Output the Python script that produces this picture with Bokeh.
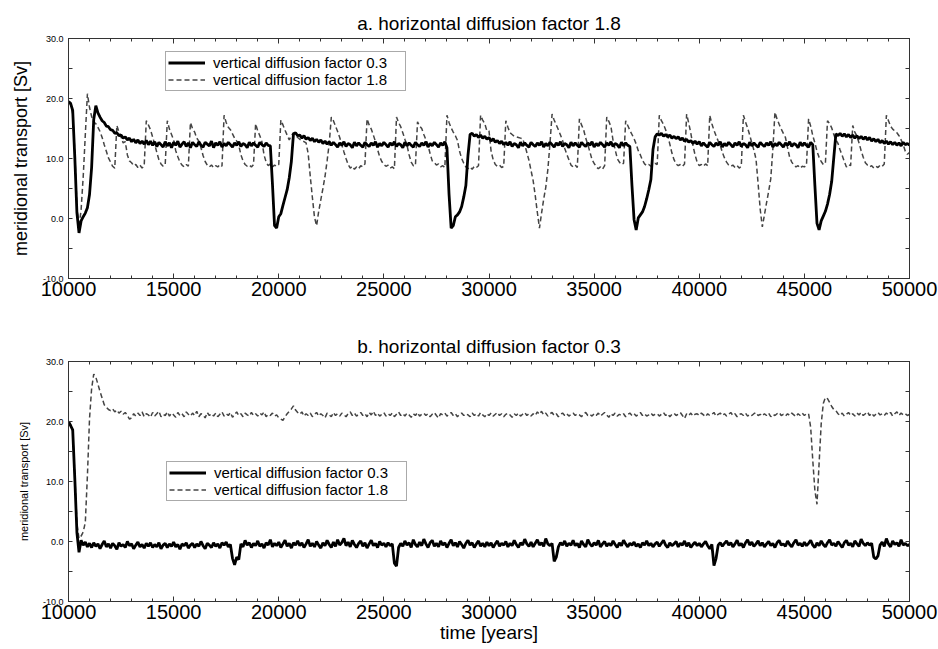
from bokeh.plotting import figure
from bokeh.models import Range1d, FixedTicker, LinearAxis, Legend, LegendItem
from bokeh.layouts import column
from bokeh.embed import file_html
from bokeh.resources import INLINE

# time grid (years), one sample every 100 years
years = list(range(10000, 50001, 100))

# panel a: horizontal diffusion factor 1.8
a_solid = [
    19.5, 19.2, 18.0, 10.2, 1.0, -2.4, -0.4, 0.3, 0.9, 1.8,
    4.0, 8.5, 16.5, 18.8, 17.6, 16.9, 16.3, 16.0, 15.4, 15.3,
    14.8, 14.7, 14.2, 14.3, 13.8, 13.9, 13.4, 13.6, 13.1, 13.4,
    12.8, 13.2, 12.6, 13.1, 12.5, 12.9, 12.4, 13.0, 12.3, 12.9,
    12.2, 12.8, 12.0, 12.7, 12.3, 11.9, 12.8, 12.1, 12.6, 11.8,
    12.7, 12.2, 12.9, 11.9, 12.4, 12.8, 12.0, 12.6, 11.8, 12.7,
    12.3, 12.0, 12.8, 12.2, 11.9, 12.7, 12.4, 12.1, 12.9, 11.8,
    12.6, 12.2, 12.8, 11.9, 12.5, 12.1, 12.7, 12.3, 11.9, 12.6,
    12.2, 12.8, 12.0, 12.5, 12.3, 11.8, 12.7, 12.1, 12.6, 12.2,
    11.9, 12.7, 12.3, 12.0, 12.6, 12.2, 12.1, 5.8, -1.2, -1.6,
    0.3, 0.8, 2.2, 3.5, 4.8, 6.8, 9.5, 14.1, 14.3, 13.8,
    13.9, 13.4, 13.8, 13.2, 13.5, 13.0, 13.4, 12.8, 13.2, 12.7,
    13.1, 12.5, 12.9, 12.4, 12.8, 12.2, 12.7, 12.3, 11.9, 12.6,
    12.2, 12.8, 12.0, 12.5, 12.3, 11.8, 12.7, 12.1, 12.6, 12.2,
    11.9, 12.7, 12.3, 12.0, 12.6, 12.2, 12.8, 11.9, 12.5, 12.1,
    12.7, 12.3, 11.9, 12.6, 12.2, 12.8, 12.0, 12.5, 12.3, 11.8,
    12.7, 12.1, 12.6, 12.2, 11.9, 12.7, 12.3, 12.0, 12.6, 12.2,
    12.8, 11.9, 12.5, 12.1, 12.7, 12.3, 11.9, 12.6, 12.2, 12.8,
    11.8, 4.0, -1.6, -1.2, 0.3, 0.6, 1.1, 2.0, 3.6, 5.5,
    10.5, 14.0, 14.2, 13.7, 14.0, 13.5, 13.9, 13.4, 13.7, 13.2,
    13.5, 12.9, 13.3, 12.7, 13.0, 12.5, 12.9, 12.3, 12.7, 12.2,
    12.8, 12.0, 12.5, 12.3, 11.8, 12.7, 12.1, 12.6, 12.2, 11.9,
    12.7, 12.3, 12.0, 12.6, 12.2, 12.8, 11.9, 12.5, 12.1, 12.7,
    12.3, 11.9, 12.6, 12.2, 12.8, 12.0, 12.5, 12.3, 11.8, 12.7,
    12.1, 12.6, 12.2, 11.9, 12.7, 12.3, 12.0, 12.6, 12.2, 12.8,
    11.9, 12.5, 12.1, 12.7, 12.3, 11.9, 12.6, 12.2, 12.8, 12.0,
    12.5, 12.3, 11.8, 12.7, 12.1, 12.6, 12.2, 12.0, 5.5, -0.2,
    -1.9, 0.1, 0.6, 1.1, 2.0, 3.3, 4.8, 6.5, 11.5, 13.6,
    14.1, 13.9, 14.2, 13.7, 14.0, 13.6, 13.9, 13.4, 13.7, 13.3,
    13.6, 13.1, 13.4, 12.9, 13.2, 12.7, 13.0, 12.5, 12.9, 12.4,
    12.8, 12.1, 12.6, 12.2, 11.9, 12.7, 12.3, 12.0, 12.6, 12.2,
    12.8, 11.9, 12.5, 12.1, 12.7, 12.3, 11.9, 12.6, 12.2, 12.8,
    12.0, 12.5, 12.3, 11.8, 12.7, 12.1, 12.6, 12.2, 11.9, 12.7,
    12.3, 12.0, 12.6, 12.2, 12.8, 11.9, 12.5, 12.1, 12.7, 12.3,
    11.9, 12.6, 12.2, 12.8, 12.0, 12.5, 12.3, 11.8, 12.7, 12.1,
    12.6, 12.2, 11.9, 12.7, 12.3, 5.5, -0.8, -1.9, -0.4, 0.4,
    1.2, 2.4, 4.0, 6.2, 10.2, 14.1, 13.8, 14.2, 13.7, 14.1,
    13.6, 14.0, 13.5, 13.9, 13.4, 13.8, 13.3, 13.7, 13.2, 13.6,
    13.1, 13.5, 12.9, 13.3, 12.8, 13.2, 12.6, 13.0, 12.5, 12.9,
    12.4, 12.8, 12.3, 12.7, 12.2, 12.6, 12.1, 12.7, 12.3, 12.5,
    12.2,
]
a_dash = [
    19.3, 19.0, 17.5, 11.0, 2.0, -1.5, 1.5, 7.0, 14.0, 20.8,
    18.5, 17.0, 16.1, 15.8, 15.2, 14.5, 13.5, 12.3, 11.2, 10.1,
    9.4, 8.7, 8.4, 15.5, 14.4, 13.6, 12.6, 12.8, 10.6, 9.6,
    9.3, 8.8, 9.0, 8.5, 8.9, 8.4, 8.8, 16.3, 15.6, 14.8,
    13.6, 12.4, 11.0, 9.8, 9.1, 8.7, 9.0, 16.3, 14.9, 14.0,
    13.1, 11.3, 10.3, 9.4, 8.9, 8.6, 9.0, 8.7, 16.0, 15.0,
    14.4, 13.4, 12.9, 11.8, 10.5, 9.5, 8.9, 8.6, 8.9, 8.5,
    8.8, 8.6, 9.0, 8.7, 17.2, 16.0, 15.2, 14.8, 14.1, 13.4,
    12.9, 12.2, 10.6, 9.6, 9.0, 8.7, 8.9, 8.6, 9.0, 15.8,
    14.6, 13.8, 12.8, 10.6, 9.4, 8.8, 9.1, 8.6, 8.9, 8.7,
    9.0, 16.4, 15.6, 14.7, 13.9, 13.1, 13.8, 14.3, 13.9, 13.5,
    13.2, 13.0, 12.8, 12.6, 10.8, 7.0, 3.5, 0.2, -1.2, 1.2,
    3.1, 5.0, 7.0, 9.6, 12.5, 16.9, 16.3, 15.4, 14.5, 13.5,
    12.3, 11.1, 10.0, 9.0, 8.4, 8.7, 8.2, 8.6, 8.3, 8.8,
    8.6, 9.1, 16.6, 15.6, 14.9, 13.9, 12.8, 11.5, 10.3, 9.5,
    9.0, 8.7, 8.9, 8.4, 8.6, 8.3, 16.9, 16.0, 15.3, 14.3,
    13.2, 12.2, 10.6, 9.4, 8.8, 8.8, 16.1, 15.4, 15.0, 14.0,
    13.1, 12.2, 10.8, 9.6, 9.3, 8.9, 9.1, 8.6, 8.8, 8.5,
    17.2, 16.0, 15.1, 14.4, 13.8, 13.0, 11.2, 10.0, 9.2, 8.6,
    8.3, 8.6, 8.2, 8.7, 8.5, 8.8, 17.2, 16.4, 15.8, 14.6,
    14.6, 11.2, 9.8, 9.0, 8.7, 8.9, 8.5, 8.7, 16.3, 15.2,
    14.3, 14.0, 13.7, 13.6, 13.5, 13.4, 13.3, 12.3, 11.0, 9.7,
    8.0, 6.3, 3.8, 1.0, -1.6, 0.9, 3.2, 5.2, 8.2, 12.5,
    17.4, 16.4, 15.6, 14.8, 13.9, 13.0, 11.7, 10.7, 9.8, 8.9,
    8.6, 8.9, 8.5, 16.6, 15.6, 14.8, 13.4, 12.3, 11.1, 9.8,
    9.2, 8.6, 8.3, 8.6, 8.2, 8.8, 16.9, 16.2, 15.3, 13.0,
    11.5, 10.0, 9.4, 9.0, 9.2, 16.3, 15.5, 14.7, 14.0, 13.3,
    12.4, 11.3, 10.6, 9.7, 9.1, 8.8, 9.0, 8.7, 8.9, 9.2,
    9.0, 17.2, 16.3, 15.7, 14.8, 13.8, 12.4, 10.9, 9.8, 9.1,
    8.8, 9.0, 8.7, 9.1, 17.4, 15.9, 14.2, 12.2, 10.6, 9.4,
    8.8, 9.0, 8.7, 9.1, 8.8, 17.2, 15.8, 14.7, 13.8, 12.9,
    12.2, 11.0, 10.1, 9.4, 8.9, 8.7, 8.9, 8.5, 8.8, 8.4,
    8.7, 17.2, 16.1, 15.1, 13.9, 12.6, 11.4, 9.9, 5.8, 1.5,
    -1.4, 0.6, 2.6, 4.5, 6.6, 11.5, 17.7, 16.6, 15.7, 14.9,
    14.2, 13.5, 11.8, 10.2, 9.4, 8.9, 8.6, 8.8, 8.4, 8.7,
    8.6, 8.9, 16.6, 15.4, 13.8, 12.6, 11.2, 10.2, 9.5, 9.0,
    9.2, 16.3, 15.8, 15.1, 14.0, 13.1, 12.5, 11.4, 10.5, 9.5,
    8.6, 9.0, 8.8, 15.5, 14.4, 13.7, 12.6, 11.3, 10.2, 9.3,
    8.9, 8.6, 8.8, 8.4, 8.7, 8.5, 8.9, 8.7, 9.1, 17.2,
    16.3, 15.4, 14.9, 14.6, 14.3, 13.8, 13.1, 12.3, 11.2, 10.7,
    11.0,
]

# panel b: horizontal diffusion factor 0.3
b_solid = [
    20.0, 19.3, 18.6, 10.5, 1.5, -1.8, 0.2, -0.6, -0.1, -0.9,
    -0.3, -1.0, -0.2, -0.8, -0.4, -1.2, -0.5, 0.1, -0.9, -0.4,
    -1.1, -0.3, -0.7, -1.3, -0.2, -0.8, -0.5, -1.0, 0.0, -0.7,
    -0.4, -1.2, -0.6, -0.1, -0.9, -0.5, -1.1, -0.3, -0.8, -0.2,
    -1.0, -0.5, -0.9, -0.2, -1.2, -0.6, -0.3, -1.0, -0.4, -0.8,
    -0.1, -0.9, -0.5, -1.3, -0.4, -0.7, -0.2, -1.1, -0.6, -0.3,
    -1.0, -0.4, -0.8, 0.0, -0.7, -1.2, -0.3, -0.6, -1.0, -0.2,
    -0.8, -0.4, -1.1, -0.2, -0.6, -0.1, -0.9, -0.5, -2.8, -3.9,
    -2.6, -3.0, -0.4, -0.9, 0.2, -0.6, -0.2, -1.0, -0.3, -0.7,
    0.1, -0.8, -0.4, -1.1, -0.2, -0.6, 0.3, -0.9, -0.3, -0.7,
    -0.1, -1.0, -0.4, 0.2, -0.8, -0.3, -1.1, -0.2, -0.6, 0.1,
    -0.7, -0.2, -1.0, -0.4, 0.3, -0.8, -0.3, -0.9, 0.0, -0.6,
    -1.1, -0.2, -0.7, 0.2, -0.5, -1.0, -0.1, -0.8, 0.3, -0.6,
    -0.2, 0.5, -0.7, -0.1, -0.9, 0.2, -0.5, -1.0, -0.3, 0.1,
    -0.8, -0.2, -1.1, -0.4, 0.2, -0.7, -0.3, -1.0, 0.0, -0.6,
    -0.3, -0.9, -0.2, -0.7, -0.4, -3.6, -4.1, -1.0, -0.3, -0.8,
    0.1, -0.6, -0.2, -1.0, 0.3, -0.5, -0.9, -0.1, -0.7, 0.4,
    -0.4, -1.0, -0.2, 0.2, -0.8, -0.3, -0.9, 0.1, -0.6, -0.2,
    -1.0, -0.3, 0.3, -0.7, -0.2, -0.9, 0.0, -0.5, -1.1, -0.3,
    0.2, -0.6, -0.2, -1.0, -0.4, 0.1, -0.8, -0.3, -0.9, -0.1,
    -0.7, -0.2, -1.0, -0.4, 0.1, -0.8, -0.3, -0.6, 0.0, -0.9,
    -0.3, -0.7, 0.2, -0.5, -1.0, -0.2, -0.6, 0.4, -0.4, -0.8,
    -0.1, -0.9, -0.3, 0.3, -0.6, -0.2, -0.8, 0.5, -0.4, -0.7,
    -0.3, -3.3, -2.6, -0.9, -0.2, -0.6, 0.1, -0.8, -0.3, -0.6,
    0.2, -0.7, -0.3, -1.0, 0.1, -0.5, -0.9, 0.3, -0.4, -0.8,
    -0.2, -0.6, 0.2, -0.9, -0.4, 0.0, -0.8, -0.3, -0.7, 0.1,
    -0.5, -1.0, -0.2, -0.7, 0.2, -0.4, -0.9, -0.3, -0.6, -0.1,
    -0.8, -0.4, -1.0, -0.2, -0.6, 0.1, -0.7, -0.3, -0.9, -0.4,
    -0.1, -0.8, -0.3, 0.2, -0.6, -1.0, -0.2, -0.7, -0.4, 0.0,
    -0.9, -0.3, -0.6, 0.1, -0.8, -0.2, -1.0, -0.5, -0.1, -0.7,
    -0.3, -0.9, -0.4, 0.0, -0.7, -1.2, -0.5, -4.0, -2.8, -0.6,
    -0.2, -0.8, -0.3, 0.1, -0.6, -0.2, -0.9, -0.4, 0.2, -0.7,
    -0.3, -1.0, -0.2, 0.3, -0.6, -0.1, -0.8, -0.4, 0.1, -0.7,
    -0.2, -0.9, -0.4, 0.0, -0.7, -0.3, -1.0, -0.2, 0.2, -0.6,
    -0.4, -0.8, 0.1, -0.5, -0.9, -0.2, 0.3, -0.6, -0.3, -0.8,
    -0.1, -0.7, -0.3, 0.2, -0.6, -1.0, -0.2, -0.7, 0.1, -0.5,
    -0.9, -0.2, 0.3, -0.6, -0.3, -0.8, 0.0, -0.5, -1.0, -0.2,
    0.2, -0.6, -0.3, -0.9, 0.1, -0.4, -0.8, 0.4, -0.3, -0.7,
    -0.2, -0.6, -0.3, -2.6, -2.9, -2.4, -0.6, -0.1, -0.8, 0.5,
    -0.4, -0.9, 0.1, -0.5, -0.2, -0.8, 0.3, -0.6, -0.3, -0.7,
    -0.5,
]
b_dash = [
    19.8, 19.5, 18.4, 11.0, 3.0, 0.5, 0.9, 1.6, 3.2, 11.0,
    20.5, 25.5, 27.9, 27.4, 26.2, 25.0, 23.9, 22.8, 22.4, 22.0,
    21.8, 22.1, 21.6, 21.9, 21.4, 21.7, 21.2, 21.5, 21.0, 20.4,
    20.6, 21.3, 20.9, 21.4, 21.0, 21.6, 20.8, 21.3, 21.1, 20.7,
    21.5, 20.9, 21.3, 21.7, 20.8, 21.2, 21.0, 21.6, 20.9, 21.4,
    21.1, 20.7, 21.5, 21.0, 21.3, 20.8, 21.6, 21.2, 20.9, 21.4,
    21.0, 21.7, 20.8, 21.3, 21.1, 20.6, 21.5, 21.0, 21.3, 20.9,
    21.4, 20.8, 21.2, 21.6, 20.9, 21.3, 21.0, 21.5, 20.7, 21.2,
    21.6, 21.0, 21.3, 20.8, 21.4, 21.1, 20.9, 21.5, 21.0, 21.3,
    20.9, 21.4, 21.1, 21.6, 20.8, 21.2, 21.0, 21.4, 20.9, 21.1,
    20.6, 20.4, 20.2, 20.8, 21.3, 21.7, 22.1, 22.6, 21.9, 21.5,
    21.2, 21.6, 20.9, 21.3, 21.0, 21.4, 20.8, 21.2, 21.5, 20.9,
    21.3, 21.0, 20.6, 21.4, 21.1, 20.8, 21.5, 21.0, 21.3, 20.9,
    21.4, 21.1, 20.8, 21.3, 21.6, 21.0, 21.4, 20.9, 21.2, 21.5,
    21.0, 21.3, 20.8, 21.5, 21.1, 21.7, 21.0, 21.4, 20.9, 21.2,
    21.5, 20.9, 21.3, 21.0, 21.4, 20.8, 21.2, 21.6, 21.0, 21.3,
    20.9, 21.4, 21.1, 20.7, 21.3, 21.0, 21.5, 20.9, 21.2, 21.4,
    21.0, 21.3, 20.8, 21.2, 21.5, 21.0, 20.6, 21.3, 21.1, 21.4,
    20.9, 21.2, 21.5, 21.0, 21.3, 20.8, 21.2, 21.4, 21.0, 21.3,
    21.1, 20.8, 21.4, 21.0, 21.3, 20.9, 21.5, 21.1, 20.8, 21.3,
    21.0, 21.4, 20.9, 21.2, 21.5, 21.0, 21.3, 20.8, 21.2, 21.4,
    21.1, 20.7, 21.3, 21.0, 21.4, 20.9, 21.2, 21.5, 21.0, 21.3,
    20.9, 21.3, 21.0, 21.6, 21.2, 21.7, 21.1, 21.4, 20.9, 21.3,
    21.5, 21.0, 21.3, 20.8, 21.2, 21.4, 21.0, 21.3, 20.9, 21.2,
    21.4, 21.0, 21.3, 21.1, 20.8, 21.3, 21.5, 21.0, 21.2, 20.9,
    21.3, 21.0, 21.4, 20.9, 21.2, 21.5, 21.1, 20.7, 21.3, 21.0,
    21.4, 20.9, 21.2, 21.0, 21.3, 20.8, 21.2, 21.4, 21.0, 21.3,
    20.9, 21.2, 21.5, 21.0, 21.3, 20.9, 21.1, 21.4, 21.0, 21.2,
    21.3, 20.9, 21.2, 21.5, 21.0, 21.3, 20.8, 21.2, 21.4, 21.0,
    21.2, 21.5, 21.0, 20.5, 21.3, 21.0, 21.4, 20.9, 21.2, 21.3,
    21.0, 21.4, 21.1, 20.8, 21.3, 21.0, 21.2, 21.5, 20.9, 21.2,
    21.4, 21.0, 21.3, 20.9, 21.2, 21.5, 21.0, 21.3, 20.8, 21.2,
    21.3, 21.0, 21.4, 20.9, 21.2, 21.0, 21.3, 21.5, 21.0, 21.2,
    20.9, 21.3, 21.0, 21.4, 20.8, 21.2, 21.0, 21.3, 21.5, 21.0,
    21.2, 20.9, 21.3, 21.0, 21.4, 21.1, 20.8, 21.3, 21.0, 21.4,
    21.0, 21.3, 21.3, 19.0, 13.5, 8.5, 6.2, 13.0, 19.6, 23.0,
    24.0, 23.8, 23.2, 22.5, 22.0, 21.8, 21.3, 21.0, 21.4, 20.9,
    21.2, 21.5, 21.0, 21.3, 20.9, 21.4, 21.1, 21.5, 21.0, 21.3,
    21.6, 21.0, 21.4, 20.9, 21.2, 21.5, 21.1, 21.3, 21.0, 21.4,
    21.1, 21.5, 20.9, 21.3, 21.6, 21.0, 21.4, 21.1, 21.3, 21.0,
    21.2,
]

for s in (a_solid, a_dash, b_solid, b_dash):
    assert len(s) == len(years), len(s)

x_major = [10000, 15000, 20000, 25000, 30000, 35000, 40000, 45000, 50000]
x_minor = list(range(10000, 50001, 1000))
y_ticks = [-10, -5, 0, 5, 10, 15, 20, 25, 30]
y_labels = {-10: "-10.0", -5: "", 0: "0.0", 5: "", 10: "10.0", 15: "", 20: "20.0", 25: "", 30: "30.0"}
series_labels = ["vertical diffusion factor 0.3", "vertical diffusion factor 1.8"]
titles = ["a. horizontal diffusion factor 1.8", "b. horizontal diffusion factor 0.3"]
y_title = "meridional transport [Sv]"
x_title = "time [years]"

FONT = "Liberation Sans"
FRAME = "#333333"


def style_x(ax, labels=True):
    ax.ticker = FixedTicker(ticks=x_major, minor_ticks=x_minor)
    ax.major_tick_in = 5
    ax.major_tick_out = 0
    ax.minor_tick_in = 3
    ax.minor_tick_out = 0
    ax.axis_line_color = FRAME
    ax.major_tick_line_color = FRAME
    ax.minor_tick_line_color = FRAME
    ax.major_label_text_font = FONT
    if labels:
        ax.major_label_text_color = "black"
        ax.major_label_text_font_size = "20px"
        ax.major_label_standoff = 3
    else:
        ax.major_label_text_color = None
        ax.major_label_text_font_size = "1px"
        ax.major_label_standoff = 0


def style_y(ax, labels=True):
    ax.ticker = FixedTicker(ticks=y_ticks)
    ax.major_label_overrides = y_labels
    ax.major_tick_in = 4
    ax.major_tick_out = 0
    ax.minor_tick_in = 0
    ax.minor_tick_out = 0
    ax.axis_line_color = FRAME
    ax.major_tick_line_color = FRAME
    ax.major_label_text_font = FONT
    if labels:
        ax.major_label_text_color = "black"
        ax.major_label_text_font_size = "9px"
        ax.major_label_standoff = 5
    else:
        ax.major_label_text_color = None
        ax.major_label_text_font_size = "1px"
        ax.major_label_standoff = 0


def make_panel(title, solid, dash, height, b_top, b_bottom, ylab_size, ylab_standoff,
               xlabel, legend_xy):
    p = figure(width=938, height=height, x_range=Range1d(10000, 50000),
               y_range=Range1d(-10, 30), output_backend="svg", toolbar_location=None,
               min_border_left=68, min_border_right=29, min_border_top=b_top,
               min_border_bottom=b_bottom, title=title)
    p.title.align = "center"
    p.title.text_font = FONT
    p.title.text_font_size = "19px"
    p.title.text_font_style = "normal"
    p.title.text_color = "black"
    p.title.standoff = 9
    p.grid.visible = False
    p.outline_line_color = FRAME
    p.background_fill_color = "white"
    p.border_fill_color = "white"

    style_x(p.xaxis[0], True)
    style_y(p.yaxis[0], True)
    p.yaxis[0].axis_label = y_title
    p.yaxis[0].axis_label_text_font = FONT
    p.yaxis[0].axis_label_text_font_size = ylab_size
    p.yaxis[0].axis_label_text_font_style = "normal"
    p.yaxis[0].axis_label_text_color = "black"
    p.yaxis[0].axis_label_standoff = ylab_standoff
    if xlabel:
        p.xaxis[0].axis_label = xlabel
        p.xaxis[0].axis_label_text_font = FONT
        p.xaxis[0].axis_label_text_font_size = "19px"
        p.xaxis[0].axis_label_text_font_style = "normal"
        p.xaxis[0].axis_label_text_color = "black"
        p.xaxis[0].axis_label_standoff = 0

    top = LinearAxis()
    style_x(top, False)
    p.add_layout(top, "above")
    right = LinearAxis()
    style_y(right, False)
    p.add_layout(right, "right")

    r2 = p.line(years, dash, line_color="#444444", line_width=1.5, line_dash="5 3")
    r1 = p.line(years, solid, line_color="black", line_width=2.8)

    legend = Legend(items=[LegendItem(label=series_labels[0], renderers=[r1]),
                           LegendItem(label=series_labels[1], renderers=[r2])],
                    location=legend_xy)
    legend.label_text_font = FONT
    legend.label_text_font_size = "15px"
    legend.label_text_color = "black"
    legend.glyph_width = 37
    legend.glyph_height = 13
    legend.label_height = 13
    legend.label_width = 190
    legend.spacing = 0
    legend.padding = 2
    legend.margin = 0
    legend.label_standoff = 8
    legend.border_line_color = "#555555"
    legend.border_line_width = 1
    legend.background_fill_color = "white"
    legend.background_fill_alpha = 1.0
    p.add_layout(legend)
    return p


pa = make_panel(titles[0], a_solid, a_dash, 318, 38, 40, "18px", 9, None, (97, 187))
pb = make_panel(titles[1], b_solid, b_dash, 331, 43, 48, "11px", 10, x_title, (98, 100))

layout = column(pa, pb)
open("out.html", "w").write(file_html(layout, INLINE))
